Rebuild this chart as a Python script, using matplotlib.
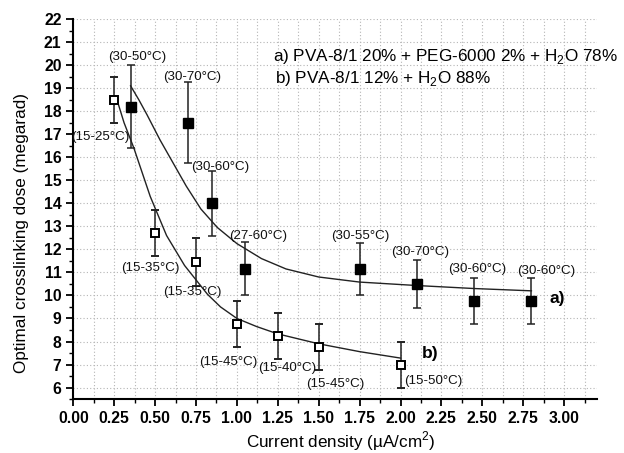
import numpy as np
import matplotlib.pyplot as plt
from matplotlib.ticker import MultipleLocator

plt.rcParams['font.family'] = ['Liberation Sans', 'DejaVu Sans']

# series a) PVA-8/1 20% + PEG-6000 2% + H2O 78%  (filled squares)
a_x = [0.35, 0.70, 0.85, 1.05, 1.75, 2.10, 2.45, 2.80]
a_y = [18.2, 17.5, 14.0, 11.15, 11.15, 10.5, 9.75, 9.75]
a_err = [1.8, 1.75, 1.4, 1.15, 1.12, 1.05, 1.0, 1.0]
a_lab = ['(30-50°C)', '(30-70°C)', '(30-60°C)', '(27-60°C)',
         '(30-55°C)', '(30-70°C)', '(30-60°C)', '(30-60°C)']

# series b) PVA-8/1 12% + H2O 88%  (open squares)
b_x = [0.25, 0.50, 0.75, 1.00, 1.25, 1.50, 2.00]
b_y = [18.5, 12.7, 11.45, 8.75, 8.25, 7.75, 7.0]
b_err = [1.0, 1.0, 1.05, 1.0, 1.0, 1.0, 1.0]
b_lab = ['(15-25°C)', '(15-35°C)', '(15-35°C)', '(15-45°C)',
         '(15-40°C)', '(15-45°C)', '(15-50°C)']

# fitted curves
fa_x = [0.35, 0.40, 0.45, 0.53, 0.61, 0.69, 0.78, 0.88, 1.00, 1.15, 1.30, 1.50, 1.75, 2.10, 2.45, 2.80]
fa_y = [19.1, 18.5, 17.85, 16.75, 15.75, 14.75, 13.75, 12.95, 12.25, 11.6, 11.15, 10.8, 10.58, 10.43, 10.3, 10.2]
fb_x = [0.26, 0.31, 0.37, 0.47, 0.57, 0.68, 0.82, 0.90, 1.00, 1.12, 1.25, 1.50, 1.75, 2.00]
fb_y = [18.65, 17.5, 16.4, 14.3, 12.6, 11.3, 10.05, 9.5, 9.0, 8.65, 8.33, 7.9, 7.56, 7.28]

# label anchor positions (centre of text)
a_lab_pos = [(0.39, 20.35), (0.726, 19.48), (0.90, 15.57), (1.13, 12.6),
             (1.755, 12.6), (2.12, 11.87), (2.47, 11.13), (2.89, 11.04)]
b_lab_pos = [(0.165, 16.87), (0.47, 11.17), (0.726, 10.13), (0.95, 7.09),
             (1.305, 6.87), (1.60, 6.17), (2.20, 6.3)]

fig = plt.figure(figsize=(6.24, 4.53), dpi=100)
ax = fig.add_axes([0.1175, 0.119, 0.839, 0.839])

ax.plot(fa_x, fa_y, color='#222222', lw=1.0, zorder=2)
ax.plot(fb_x, fb_y, color='#222222', lw=1.0, zorder=2)

ax.errorbar(a_x, a_y, yerr=a_err, fmt='s', ms=6.8, mfc='black', mec='black',
            ecolor='#222222', elinewidth=1.1, capsize=3, capthick=1.1, zorder=3)
ax.errorbar(b_x, b_y, yerr=b_err, fmt='s', ms=6.2, mfc='white', mec='black', mew=1.4,
            ecolor='#222222', elinewidth=1.1, capsize=3, capthick=1.1, zorder=3)

for (x, y), t in zip(a_lab_pos + b_lab_pos, a_lab + b_lab):
    ax.text(x, y, t, ha='center', va='center', fontsize=9.6, color='#111111', zorder=4)

ax.text(2.96, 9.87, 'a)', ha='center', va='center', fontsize=12.5, fontweight='bold')
ax.text(2.18, 7.48, 'b)', ha='center', va='center', fontsize=12.5, fontweight='bold')

fig.text(273 / 624, 1 - 57 / 453, 'a) PVA-8/1 20% + PEG-6000 2% + H$_\\mathregular{2}$O 78%',
         ha='left', va='center', fontsize=12.3)
fig.text(275 / 624, 1 - 79 / 453, 'b) PVA-8/1 12% + H$_\\mathregular{2}$O 88%',
         ha='left', va='center', fontsize=12.3)

ax.set_xlim(0, 3.2)
ax.set_ylim(5.5, 22)
ax.xaxis.set_minor_locator(MultipleLocator(0.125))
ax.yaxis.set_minor_locator(MultipleLocator(0.5))
ax.set_xticks(np.arange(0, 3.01, 0.25))
ax.set_xticklabels(['%.2f' % v for v in np.arange(0, 3.01, 0.25)])
ax.set_yticks(np.arange(6, 22.01, 1))

ax.grid(True, which='major', axis='both', ls=(0, (1, 2)), color='#b5b5b5', lw=0.8)
ax.grid(True, which='minor', axis='x', ls=(0, (1, 2)), color='#b5b5b5', lw=0.8)

for s in ['top', 'right']:
    ax.spines[s].set_visible(False)
for s in ['left', 'bottom']:
    ax.spines[s].set_linewidth(1.5)

ax.tick_params(which='major', direction='out', length=5, width=1.3, labelsize=11.3)
ax.tick_params(which='minor', direction='out', length=3, width=1.0)
for lab in ax.get_xticklabels() + ax.get_yticklabels():
    lab.set_fontweight('bold')

fig.text(22 / 624, 1 - 233 / 453, 'Optimal crosslinking dose (megarad)', rotation=90,
         ha='center', va='center', fontsize=12.3)
fig.text(341 / 624, 1 - 441 / 453, 'Current density (µA/cm$^\\mathregular{2}$)',
         ha='center', va='center', fontsize=12.3)

fig.savefig('out.png', dpi=100)
